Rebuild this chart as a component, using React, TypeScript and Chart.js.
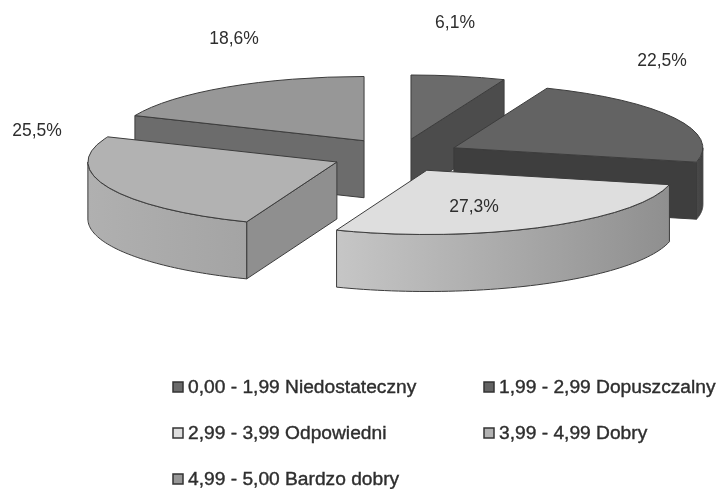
import React, { useEffect, useRef } from "react";
import { Chart, registerables } from "chart.js";

Chart.register(...registerables);

const categories = [
  "0,00 - 1,99 Niedostateczny",
  "1,99 - 2,99 Dopuszczalny",
  "2,99 - 3,99 Odpowiedni",
  "3,99 - 4,99 Dobry",
  "4,99 - 5,00 Bardzo dobry",
];
const shares = [6.1, 22.5, 27.3, 25.5, 18.6];

const topColors = ["#6b6b6b", "#636363", "#dedede", "#b2b2b2", "#979797"];
const edgeColors = ["#4c4c4c", "#3e3e3e", "#8f8f8f", "#8f8f8f", "#6c6c6c"];
const wallLeft = ["#555555", "#4a4a4a", "#c6c6c6", "#b0b0b0", "#6a6a6a"];
const wallRight = ["#555555", "#404040", "#8f8f8f", "#a4a4a4", "#6a6a6a"];
const paintOrder = [4, 0, 1, 3, 2];
const explode = [76, 64.7, 64.7, 64.7, 57];
const nudgeX = [0, 0, 0, 0, -1];
const nudgeY = [3, 0, 0, 0, -2.5];

const SQUASH = 0.258;
const DEPTH = 57;
const RADIUS = 249;
const TEXT = "#2e2e2e";
const FONT = '"Liberation Sans", Arial, sans-serif';

const labelCenters = [
  [455, 23],
  [662, 61],
  [474, 207],
  [37, 131],
  [234, 39],
];
const legendCols = [172, 483];
const legendRows = [387, 433, 479];

const pie3d = {
  id: "pie3d",
  beforeDatasetDraw(chart: any) {
    const { ctx } = chart;
    const arcs = chart.getDatasetMeta(0).data;
    for (const i of paintOrder) {
      const arc = arcs[i];
      const { x, y, startAngle: a0, endAngle: a1, outerRadius: r } = arc;
      const mid = (a0 + a1) / 2;
      const ox = Math.cos(mid) * explode[i] + nudgeX[i];
      const oy = Math.sin(mid) * explode[i] * SQUASH + nudgeY[i];
      const px = (a: number) => x + ox + Math.cos(a) * r;
      const py = (a: number) => y + oy + Math.sin(a) * r * SQUASH;
      const ax = x + ox;
      const ay = y + oy;
      ctx.save();
      ctx.lineWidth = 1;
      ctx.strokeStyle = "#3c3c3c";
      const radial = (a: number) => {
        ctx.beginPath();
        ctx.moveTo(ax, ay);
        ctx.lineTo(px(a), py(a));
        ctx.lineTo(px(a), py(a) + DEPTH);
        ctx.lineTo(ax, ay + DEPTH);
        ctx.closePath();
        ctx.fillStyle = edgeColors[i];
        ctx.fill();
        ctx.stroke();
      };
      if (Math.cos(a0) < 0) radial(a0);
      if (Math.cos(a1) > 0) radial(a1);
      const w0 = Math.max(a0, 0);
      const w1 = Math.min(a1, Math.PI);
      if (w1 > w0) {
        const g = ctx.createLinearGradient(px(w1), 0, px(w0), 0);
        g.addColorStop(0, wallLeft[i]);
        g.addColorStop(1, wallRight[i]);
        ctx.beginPath();
        for (let k = 0; k <= 60; k++) {
          const a = w0 + ((w1 - w0) * k) / 60;
          ctx.lineTo(px(a), py(a));
        }
        for (let k = 60; k >= 0; k--) {
          const a = w0 + ((w1 - w0) * k) / 60;
          ctx.lineTo(px(a), py(a) + DEPTH);
        }
        ctx.closePath();
        ctx.fillStyle = g;
        ctx.fill();
        ctx.stroke();
      }
      ctx.save();
      ctx.translate(ax, ay);
      ctx.scale(1, SQUASH);
      ctx.translate(-x, -y);
      arc.draw(ctx);
      ctx.beginPath();
      ctx.moveTo(x, y);
      ctx.arc(x, y, r, a0, a1);
      ctx.closePath();
      ctx.restore();
      ctx.stroke();
      ctx.restore();
    }
    return false;
  },
  afterDraw(chart: any) {
    const { ctx } = chart;
    ctx.save();
    ctx.fillStyle = TEXT;
    ctx.textAlign = "center";
    ctx.textBaseline = "middle";
    ctx.font = `17.5px ${FONT}`;
    shares.forEach((v, i) => {
      const text = v.toFixed(1).replace(".", ",") + "%";
      ctx.fillText(text, labelCenters[i][0], labelCenters[i][1]);
    });
    ctx.font = `19.2px ${FONT}`;
    ctx.textAlign = "left";
    categories.forEach((name, i) => {
      const lx = legendCols[i % 2];
      const ly = legendRows[Math.floor(i / 2)];
      ctx.fillStyle = topColors[i];
      ctx.strokeStyle = "#333333";
      ctx.lineWidth = 1.5;
      ctx.fillRect(lx + 1, ly - 5, 10, 10);
      ctx.strokeRect(lx + 1, ly - 5, 10, 10);
      ctx.fillStyle = TEXT;
      ctx.strokeStyle = TEXT;
      ctx.lineWidth = 0.4;
      ctx.fillText(name, lx + 16, ly + 1);
      ctx.strokeText(name, lx + 16, ly + 1);
    });
    ctx.restore();
  },
};

export default function App() {
  const ref = useRef<HTMLCanvasElement>(null);
  useEffect(() => {
    const chart = new Chart(ref.current as HTMLCanvasElement, {
      type: "pie",
      data: {
        labels: categories,
        datasets: [
          {
            data: shares,
            backgroundColor: topColors,
            borderWidth: 0,
            radius: RADIUS,
          } as any,
        ],
      },
      options: {
        animation: false,
        responsive: false,
        layout: { padding: { left: 74, right: 0, top: 0, bottom: 178 } },
        plugins: { legend: { display: false }, tooltip: { enabled: false } },
      },
      plugins: [pie3d],
    } as any);
    return () => chart.destroy();
  }, []);
  return (
    <div style={{ position: "fixed", left: 0, top: 0, width: 719, height: 489, background: "#fff" }}>
      <canvas ref={ref} width={719} height={489} style={{ display: "block", filter: "blur(0.5px)" }} />
    </div>
  );
}
